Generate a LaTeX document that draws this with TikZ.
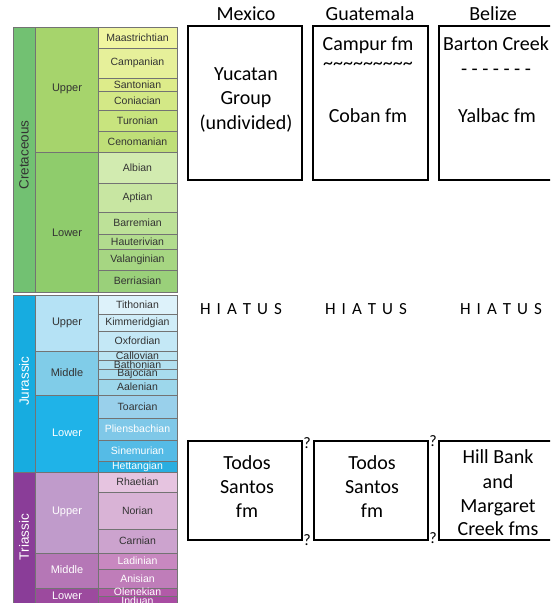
\documentclass[tikz,border=0pt]{standalone}
\usepackage{fontspec}
\setmainfont{Carlito}
\newfontfamily\arialf{Liberation Sans}
\definecolor{kP}{HTML}{72C172}
\definecolor{kU}{HTML}{A6D46C}
\definecolor{kL}{HTML}{8FCC6C}
\definecolor{jP}{HTML}{17ACE0}
\definecolor{jU}{HTML}{B5E2F5}
\definecolor{jM}{HTML}{80CCE8}
\definecolor{jL}{HTML}{1FB3E8}
\definecolor{tP}{HTML}{8A3D98}
\definecolor{tU}{HTML}{C09BCB}
\definecolor{tM}{HTML}{B577B6}
\definecolor{tL}{HTML}{9C4A9E}
\definecolor{sMaa}{HTML}{F0F5A0}
\definecolor{sCam}{HTML}{E6F09A}
\definecolor{sSan}{HTML}{DDEC8A}
\definecolor{sCon}{HTML}{D3E886}
\definecolor{sTur}{HTML}{C8E47E}
\definecolor{sCen}{HTML}{BFDF78}
\definecolor{sAlb}{HTML}{D2EBB0}
\definecolor{sApt}{HTML}{C8E6A2}
\definecolor{sBar}{HTML}{BDE198}
\definecolor{sHau}{HTML}{B2DC8E}
\definecolor{sVal}{HTML}{A6D682}
\definecolor{sBer}{HTML}{9AD07A}
\definecolor{sTit}{HTML}{DDF2FA}
\definecolor{sKim}{HTML}{D0EDF8}
\definecolor{sOxf}{HTML}{C4E8F6}
\definecolor{sCal}{HTML}{BBE4F2}
\definecolor{sBat}{HTML}{B2E0F0}
\definecolor{sBaj}{HTML}{A8DCEE}
\definecolor{sAal}{HTML}{9DD7EB}
\definecolor{sToa}{HTML}{99D0EB}
\definecolor{sPli}{HTML}{7FC8E8}
\definecolor{sSin}{HTML}{55BBE6}
\definecolor{sHet}{HTML}{2AAEE0}
\definecolor{sRha}{HTML}{E6C4E0}
\definecolor{sNor}{HTML}{D9B3D6}
\definecolor{sCar}{HTML}{CCA3CE}
\definecolor{sLad}{HTML}{C888C0}
\definecolor{sAni}{HTML}{BF7DB9}
\definecolor{sOle}{HTML}{B25AA8}
\definecolor{sInd}{HTML}{A84CA2}
\definecolor{dk}{HTML}{333333}
\begin{document}
\begin{tikzpicture}[x=1pt,y=-1pt,
  cell/.style={draw=black!55,line width=0.5pt},
  stagetxt/.style={font=\arialf\fontsize{10.5}{11}\selectfont,inner sep=0pt},
  epochtxt/.style={font=\arialf\fontsize{11}{12}\selectfont,inner sep=0pt},
  periodtxt/.style={font=\arialf\fontsize{13.5}{14}\selectfont,inner sep=0pt,rotate=90},
  fbox/.style={draw=black,line width=2.2pt,inner sep=0pt},
  big/.style={font=\fontsize{20}{24}\selectfont,anchor=base,inner sep=0pt},
  qm/.style={font=\fontsize{16}{18}\selectfont,anchor=base,inner sep=0pt}]
\useasboundingbox (0,0) rectangle (550,603);
\clip (0,0) rectangle (550,603);
\fill[white] (0,0) rectangle (550,603);
% periods
\fill[kP] (13,27) rectangle (35,292); \draw[cell] (13,27) rectangle (35,292);
\fill[jP] (13,295) rectangle (35,472); \draw[cell] (13,295) rectangle (35,472);
\fill[tP] (13,472) rectangle (35,605); \draw[cell] (13,472) rectangle (35,605);
\node[periodtxt,text=dk] (pK) at (24,155) {Cretaceous};
\node[periodtxt,text=white] (pJ) at (24,381) {Jurassic};
\node[periodtxt,text=white] (pT) at (24,537) {Triassic};
% epochs
\foreach \t/\b/\c/\nm/\tc/\id in {27/152/kU/Upper/dk/e1,152/292/kL/Lower/dk/e2,
  295/351/jU/Upper/dk/e3,351/395/jM/Middle/dk/e4,395/472/jL/Lower/white/e5,
  472/553/tU/Upper/white/e6,553/588/tM/Middle/white/e7,588/605/tL/Lower/white/e8}{
  \fill[\c] (35,\t) rectangle (98,\b);
  \draw[cell] (35,\t) rectangle (98,\b);
}
\node[epochtxt,text=dk] (e1) at (67,89) {Upper};
\node[epochtxt,text=dk] (e2) at (67,233) {Lower};
\node[epochtxt,text=dk] (e3) at (67,323) {Upper};
\node[epochtxt,text=dk] (e4) at (67,373) {Middle};
\node[epochtxt,text=white] (e5) at (67,433) {Lower};
\node[epochtxt,text=white] (e6) at (67,512) {Upper};
\node[epochtxt,text=white] (e7) at (67,570) {Middle};
\node[epochtxt,text=white] (e8) at (67,596) {Lower};
% stages
\foreach \t/\b/\c/\nm/\tc in {27/48/sMaa/Maastrichtian/dk,48/78/sCam/Campanian/dk,
  78/91/sSan/Santonian/dk,91/110/sCon/Coniacian/dk,110/131/sTur/Turonian/dk,
  131/152/sCen/Cenomanian/dk,152/183/sAlb/Albian/dk,183/212/sApt/Aptian/dk,
  212/234/sBar/Barremian/dk,234/249/sHau/Hauterivian/dk,249/270/sVal/Valanginian/dk,
  270/292/sBer/Berriasian/dk,
  295/314/sTit/Tithonian/dk,314/331/sKim/Kimmeridgian/dk,331/351/sOxf/Oxfordian/dk,
  351/360/sCal/Callovian/dk,360/369/sBat/Bathonian/dk,369/379/sBaj/Bajocian/dk,
  379/395/sAal/Aalenian/dk,395/418/sToa/Toarcian/dk,418/440/sPli/Pliensbachian/white,
  440/461/sSin/Sinemurian/white,461/472/sHet/Hettangian/white,
  472/492/sRha/Rhaetian/dk,492/529/sNor/Norian/dk,529/553/sCar/Carnian/dk,
  553/569/sLad/Ladinian/white,569/588/sAni/Anisian/white,588/596/sOle/Olenekian/white,
  596/605/sInd/Induan/white}{
  \fill[\c] (98,\t) rectangle (177,\b);
  \draw[cell] (98,\t) rectangle (177,\b);
  \node[stagetxt,text=\tc] (s-\nm) at (137.5,{(\t+\b)/2}) {\nm};
}
% headers
\node[big] (hMex) at (246,20) {Mexico};
\node[big] (hGua) at (370,20) {Guatemala};
\node[big] (hBel) at (493,20) {Belize};
% upper boxes
\node[fbox,minimum width=114,minimum height=154] (bMexU) at (245,103) {};
\node[fbox,minimum width=115,minimum height=154] (bGuaU) at (370.5,103) {};
\node[fbox,minimum width=116,minimum height=154] (bBelU) at (497,103) {};
\node[big] (tYuc) at (246,80) {Yucatan};
\node[big] (tGro) at (246,104.5) {Group};
\node[big] (tUnd) at (246,129) {(undivided)};
\node[big] (tCam) at (368,50) {Campur fm};
\node[big] (tTil) at (368,69) {\textasciitilde\textasciitilde\textasciitilde\textasciitilde\textasciitilde\textasciitilde\textasciitilde\textasciitilde\textasciitilde};
\node[big] (tCob) at (368,122) {Coban fm};
\node[big] (tBar) at (496,50) {Barton Creek};
\node[big] (tDash) at (496,75) {- - - - - - -};
\node[big] (tYal) at (497,122) {Yalbac fm};
% hiatus
\node[font=\fontsize{17}{20}\selectfont,anchor=base,inner sep=0pt] (hi1) at (241,314) {H\hspace{6pt}I\hspace{6pt}A\hspace{6pt}T\hspace{6pt}U\hspace{6pt}S};
\node[font=\fontsize{17}{20}\selectfont,anchor=base,inner sep=0pt] (hi2) at (366,314) {H\hspace{6pt}I\hspace{6pt}A\hspace{6pt}T\hspace{6pt}U\hspace{6pt}S};
\node[font=\fontsize{17}{20}\selectfont,anchor=base,inner sep=0pt] (hi3) at (501,314) {H\hspace{6pt}I\hspace{6pt}A\hspace{6pt}T\hspace{6pt}U\hspace{6pt}S};
% lower boxes
\node[fbox,minimum width=114,minimum height=99] (bMexL) at (245,490.5) {};
\node[fbox,minimum width=114,minimum height=99] (bGuaL) at (371,490.5) {};
\node[fbox,minimum width=116,minimum height=99] (bBelL) at (497,490.5) {};
\node[big] (m1) at (247,469) {Todos};
\node[big] (m2) at (247,493) {Santos};
\node[big] (m3) at (247,517) {fm};
\node[big] (g1) at (372,469) {Todos};
\node[big] (g2) at (372,493) {Santos};
\node[big] (g3) at (372,517) {fm};
\node[big] (b1) at (498,463) {Hill Bank};
\node[big] (b2) at (498,488) {and};
\node[big] (b3) at (498,512) {Margaret};
\node[big] (b4) at (498,535) {Creek fms};
\node[qm] (q1) at (307,448) {?};
\node[qm] (q2) at (307,545) {?};
\node[qm] (q3) at (433,446) {?};
\node[qm] (q4) at (433,543) {?};
\end{tikzpicture}
\end{document}
